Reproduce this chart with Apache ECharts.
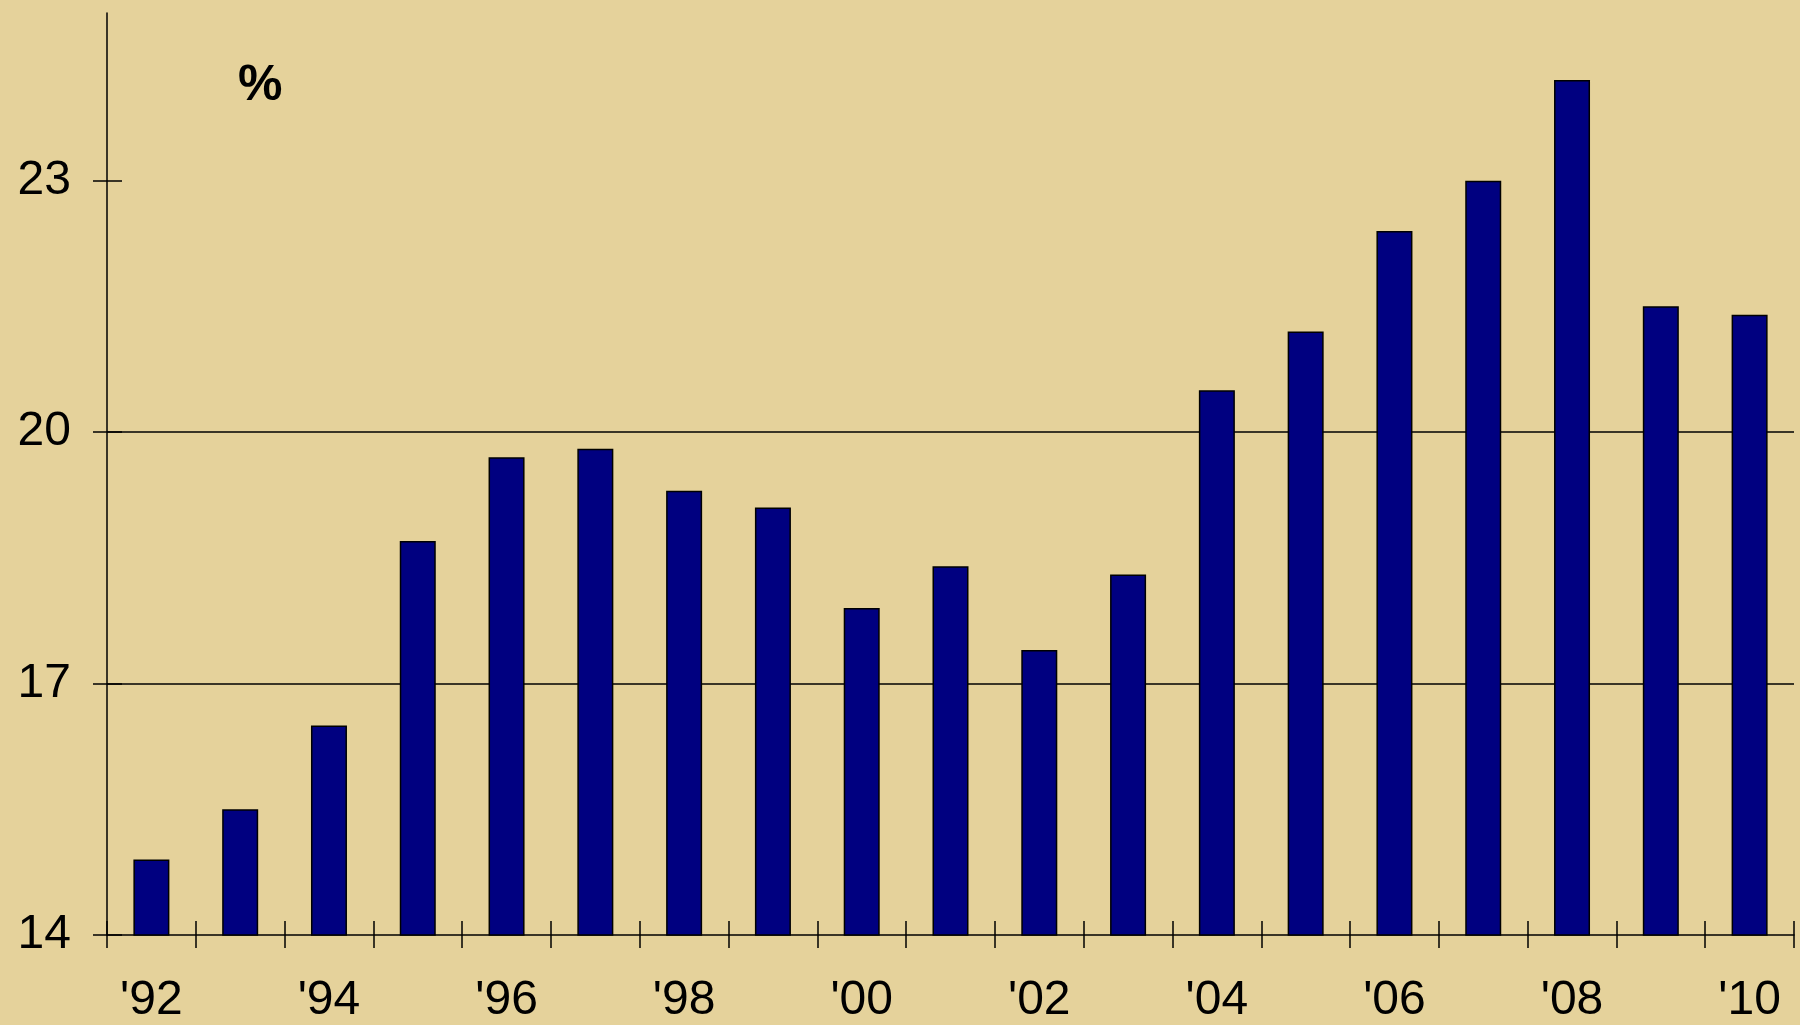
<!DOCTYPE html>
<html>
<head>
<meta charset="UTF-8">
<title>chart</title>
<script src="https://cdn.jsdelivr.net/npm/echarts@6/dist/echarts.min.js"></script>
<style>
    html, body { margin: 0; padding: 0; background: #E5D29B; }
    #main { width: 1800px; height: 1025px; }
</style>
</head>
<body>
<div id="main"></div>
<script type="text/javascript">
    // 数据
    var years = ["'92", "'93", "'94", "'95", "'96", "'97", "'98", "'99", "'00", "'01",
                 "'02", "'03", "'04", "'05", "'06", "'07", "'08", "'09", "'10"];
    var values = [14.9, 15.5, 16.5, 18.7, 19.7, 19.8, 19.3, 19.1, 17.9, 18.4,
                  17.4, 18.3, 20.5, 21.2, 22.4, 23.0, 24.2, 21.5, 21.4];
    var yTicks = [14, 17, 20, 23];

    var font = 'Liberation Sans, Arial, sans-serif';
    var tickStyle = { color: '#000', width: 1.5 };

    var chart = echarts.init(document.getElementById('main'));

    var option = {
        backgroundColor: '#E5D29B',
        animation: false,
        title: {
            text: '%',
            left: 233,
            top: 56,
            textStyle: { fontFamily: font, fontSize: 50, fontWeight: 'bold', color: '#000' }
        },
        grid: { left: 107, right: 6, top: 13, bottom: 89 },
        xAxis: [
            {
                type: 'category',
                position: 'bottom',
                data: years,
                axisLine: { show: true, lineStyle: { color: '#000', width: 1.5 } },
                axisTick: { show: true, interval: 0, length: 13, lineStyle: tickStyle },
                axisLabel: { interval: 1, margin: 42, color: '#000', fontSize: 48, fontFamily: font }
            },
            {
                // 向内的刻度（穿过坐标轴）
                type: 'category',
                position: 'bottom',
                offset: 0,
                data: years,
                axisLine: { show: false },
                axisTick: { show: true, interval: 0, inside: true, length: 14, lineStyle: tickStyle },
                axisLabel: { show: false },
                splitLine: { show: false }
            }
        ],
        yAxis: [
            {
                type: 'value',
                position: 'left',
                min: 14,
                max: 25,
                interval: 3,
                axisLine: { show: true, lineStyle: { color: '#000', width: 1.5 } },
                axisTick: { show: true, length: 14, customValues: yTicks, lineStyle: tickStyle },
                axisLabel: { margin: 36, color: '#000', fontSize: 48, fontFamily: font, customValues: yTicks },
                splitLine: { show: true, showMinLine: false, showMaxLine: false, lineStyle: { color: '#000', width: 1.5 } }
            },
            {
                type: 'value',
                position: 'left',
                offset: 0,
                min: 14,
                max: 25,
                interval: 3,
                axisLine: { show: false },
                axisTick: { show: true, inside: true, length: 15, customValues: yTicks, lineStyle: tickStyle },
                axisLabel: { show: false },
                splitLine: { show: false }
            }
        ],
        series: [
            {
                type: 'bar',
                xAxisIndex: 0,
                yAxisIndex: 0,
                data: values,
                barWidth: 36,
                itemStyle: { color: '#000080', borderColor: '#000', borderWidth: 1.5 }
            }
        ]
    };

    chart.setOption(option);
</script>
</body>
</html>
